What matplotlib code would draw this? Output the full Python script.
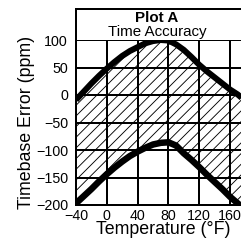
import matplotlib
matplotlib.use("Agg")
import matplotlib.pyplot as plt

plt.rcParams['font.family'] = ['Liberation Sans', 'DejaVu Sans']
plt.rcParams['hatch.linewidth'] = 1.0

# Data
temps = [-40, -30, -20, -10, 0, 10, 20, 30, 40, 50, 60, 70, 80, 90, 100, 110, 120, 130, 140, 150, 160, 170, 175]
upper = [-9, 6, 21, 35, 48, 60, 71, 80, 87, 94, 98, 100, 99, 92, 82, 69, 55, 43, 32, 21, 10, 1, -5]
lower = [-197, -184, -171, -157, -144, -132, -121, -111, -103, -96, -90, -87, -86, -92, -106, -118, -131, -145, -158, -171, -185, -197, -203]

x_ticks = [-40, 0, 40, 80, 120, 160]
y_ticks = [-200, -150, -100, -50, 0, 50, 100]
title_main = "Plot A"
title_sub = "Time Accuracy"
x_label = "Temperature (°F)"
y_label = "Timebase Error (ppm)"

DPI = 64
W, H = 241, 248
fig = plt.figure(figsize=(W / DPI, H / DPI), dpi=DPI, facecolor='white')

def px(v):
    return v * 72.0 / DPI

ax_l, ax_r, ax_top, ax_bot = 76, 241, 40, 205
ax = fig.add_axes([ax_l / W, (H - ax_bot) / H, (ax_r - ax_l) / W, (ax_bot - ax_top) / H])
ax.set_xlim(-40, 174.3)
ax.set_ylim(-200, 100)

ax.fill_between(temps, lower, upper, facecolor='none', edgecolor='black', hatch='//', linewidth=0, zorder=1)

# grid lines at the tick positions
ax.vlines(x_ticks, y_ticks[0], y_ticks[-1], colors='black', linewidths=px(2), zorder=2)
ax.hlines(y_ticks, x_ticks[0], 175, colors='black', linewidths=px(2), zorder=2)

ax.plot(temps, upper, color='black', lw=px(6), solid_capstyle='butt', zorder=3)
ax.plot(temps, lower, color='black', lw=px(6.5), solid_capstyle='butt', zorder=3)

ax.set_xticks(x_ticks)
ax.set_yticks(y_ticks)
ax.tick_params(length=0, labelsize=16, pad=px(4))
ax.tick_params(axis='y', pad=px(8))
for s in ['left', 'top', 'bottom']:
    ax.spines[s].set_linewidth(px(2))
ax.spines['right'].set_visible(False)

ax.set_xlabel(x_label, fontsize=20)
ax.set_ylabel(y_label, fontsize=20)
ax.xaxis.label.set_va('center')
ax.yaxis.label.set_va('center')
ax.xaxis.set_label_coords((163 - ax_l) / (ax_r - ax_l), (ax_bot - 230) / (ax_bot - ax_top))
ax.yaxis.set_label_coords((27 - ax_l) / (ax_r - ax_l), 0.5)

# Title box
tb_top = 9
tax = fig.add_axes([ax_l / W, (H - ax_top) / H, (ax_r - ax_l) / W, (ax_top - tb_top) / H])
tax.set_xticks([])
tax.set_yticks([])
tax.spines['right'].set_visible(False)
tax.spines['bottom'].set_visible(False)
for s in ['left', 'top']:
    tax.spines[s].set_linewidth(px(2))
cx = (157 - ax_l) / (ax_r - ax_l)
tax.text(cx, (ax_top - 18) / (ax_top - tb_top), title_main, ha='center', va='center',
         fontsize=17, fontweight='bold', transform=tax.transAxes)
tax.text(cx, (ax_top - 32) / (ax_top - tb_top), title_sub, ha='center', va='center',
         fontsize=17, transform=tax.transAxes)

fig.savefig("out.png", dpi=DPI, facecolor='white')
